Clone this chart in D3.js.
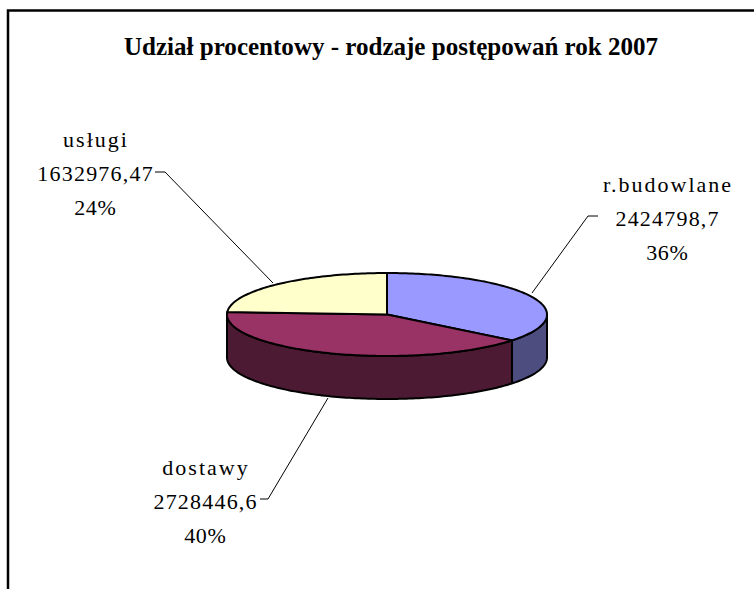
<!DOCTYPE html>
<html><head><meta charset="utf-8">
<script src="https://cdn.jsdelivr.net/npm/d3@7"></script>
<style>body{margin:0;background:#fff}svg{display:block}</style>
</head><body>
<svg id="c" width="754" height="589" font-family="Liberation Serif, serif"></svg>
<script>
const title = "Udział procentowy - rodzaje postępowań rok 2007";
const categories = ["r.budowlane", "dostawy", "usługi"];
const values = [2424798.7, 2728446.6, 1632976.47];
const valueLabels = ["2424798,7", "2728446,6", "1632976,47"];
const topColors = ["#9999FF", "#993366", "#FFFFCC"];
const sideColors = ["#4D4D80", "#4D1A33", "#80806A"];

const svg = d3.select("#c");
const W = 754, H = 589;
svg.append("rect").attr("x", 8).attr("y", 10.5).attr("width", W + 10).attr("height", H + 10)
  .attr("fill", "#fff").attr("stroke", "#000").attr("stroke-width", 2.5);

const cx = 387, cy = 314.5, rx = 160, ry = 41.5, depth = 43;
const px = a => cx + rx * Math.sin(a);
const py = a => cy - ry * Math.cos(a);
const total = d3.sum(values);
const pie = d3.pie().sort(null).value(d => d)(values);

function arcPts(a0, a1, dy) {
  const n = Math.max(2, Math.ceil(Math.abs(a1 - a0) / 0.02));
  return d3.range(n + 1).map(i => { const a = a0 + (a1 - a0) * i / n; return [px(a), py(a) + dy]; });
}
const line = d3.line();

const g = svg.append("g");
pie.forEach((s, i) => {
  const a0 = Math.max(s.startAngle, Math.PI / 2), a1 = Math.min(s.endAngle, 3 * Math.PI / 2);
  if (a1 <= a0) return;
  const top = arcPts(a0, a1, 0), bot = arcPts(a1, a0, depth);
  g.append("path").attr("d", line(top.concat(bot)) + "Z")
    .attr("fill", sideColors[i]).attr("stroke", "#000").attr("stroke-width", 2).attr("stroke-linejoin", "round");
});
pie.forEach((s, i) => {
  const pts = [[cx, cy]].concat(arcPts(s.startAngle, s.endAngle, 0));
  g.append("path").attr("d", line(pts) + "Z")
    .attr("fill", topColors[i]).attr("stroke", "#000").attr("stroke-width", 2).attr("stroke-linejoin", "round");
});

svg.append("text").attr("x", 391).attr("y", 55).attr("text-anchor", "middle")
  .attr("font-family", "Liberation Serif, serif")
  .attr("font-weight", "bold").attr("font-size", 26).attr("textLength", 534).attr("lengthAdjust", "spacingAndGlyphs")
  .text(title);

const labelPos = [
  {x: 667, y: 191.5, lx: 598, ly: 216, hx: 588, ex: 532, ey: 293},
  {x: 205, y: 475, lx: 260, ly: 499, hx: 268, ex: 328, ey: 398},
  {x: 95, y: 146.5, lx: 155, ly: 172, hx: 165, ex: 273, ey: 283}
];
const spacing = [2, 1.2, 0.6];
const fmtPct = d => Math.round(d / total * 100) + "%";
pie.forEach((s, i) => {
  const p = labelPos[i];
  svg.append("path").attr("d", d3.line()([[p.lx, p.ly], [p.hx, p.ly], [p.ex, p.ey]]))
    .attr("fill", "none").attr("stroke", "#000").attr("stroke-width", 1);
  [categories[i], valueLabels[i], fmtPct(values[i])].forEach((txt, k) => {
    svg.append("text").attr("x", p.x + spacing[k] / 2).attr("y", p.y + k * 34)
      .attr("text-anchor", "middle").attr("font-family", "Liberation Serif, serif")
      .attr("letter-spacing", spacing[k])
      .attr("font-size", 22).attr("fill", "#000").text(txt);
  });
});
</script>
</body></html>
